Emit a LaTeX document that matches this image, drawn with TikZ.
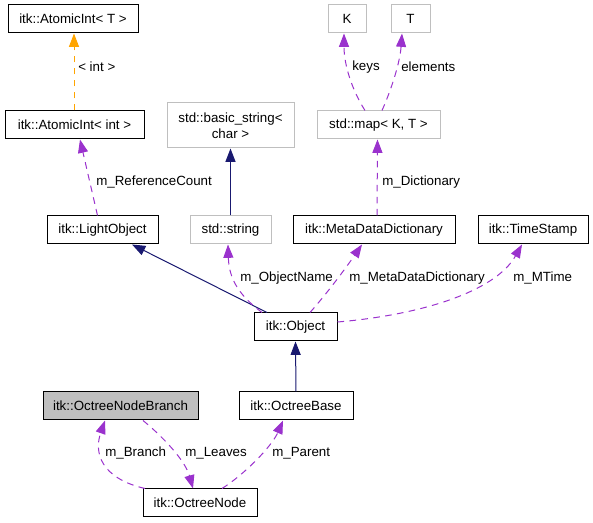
\documentclass[tikz,border=0pt]{standalone}
\usepackage{fontspec}
\setmainfont{Liberation Sans}
\usetikzlibrary{arrows.meta,calc}
\definecolor{navyc}{HTML}{191970}
\definecolor{purp}{HTML}{9A32CD}
\definecolor{orng}{HTML}{FFA500}
\definecolor{greyb}{HTML}{BFBFBF}
\begin{document}
\begin{tikzpicture}[x=0.75pt,y=-0.75pt,
  font=\fontsize{10}{12}\selectfont,
  box/.style={draw=black, line width=0.75pt, inner sep=0pt, minimum height=21pt, align=center},
  ext/.style={box, draw=greyb},
  lbl/.style={anchor=west, inner sep=0pt},
  tip/.style={-{Triangle[length=10pt,width=7.5pt]}},
  dep/.style={draw=purp, line width=0.75pt, dash pattern=on 5pt off 4pt, tip},
  inh/.style={draw=navyc, line width=0.75pt, tip},
  tmpl/.style={draw=orng, line width=0.75pt, dash pattern=on 5pt off 4pt, tip}]
\useasboundingbox (0,0) rectangle (593,523);

% nodes
\node[box, minimum width=97.5pt] (ati) at (73,19) {itk::AtomicInt< T >};
\node[box, minimum width=104.25pt] (atint) at (74.5,125) {itk::AtomicInt< int >};
\node[ext, minimum width=28.5pt] (K) at (347,19) {K};
\node[ext, minimum width=29.25pt] (T) at (410.5,19) {T};
\node[ext, minimum width=92.25pt] (map) at (378.5,125) {std::map< K, T >};
\node[ext, minimum width=95.25pt, minimum height=33.75pt] (bstr) at (230.5,125.5) {std::basic\_string<\\char >};
\node[box, minimum width=83.25pt] (light) at (102.5,230) {itk::LightObject};
\node[ext, minimum width=60.75pt] (sstr) at (230.5,230) {std::string};
\node[box, minimum width=121.5pt] (mdd) at (374,230) {itk::MetaDataDictionary};
\node[box, minimum width=82.5pt] (ts) at (533,230) {itk::TimeStamp};
\node[box, minimum width=62.25pt] (obj) at (295.5,327) {itk::Object};
\node[box, fill=greyb, minimum width=116.25pt] (onb) at (120.5,406) {itk::OctreeNodeBranch};
\node[box, minimum width=85.5pt] (ob) at (296,406) {itk::OctreeBase};
\node[box, minimum width=85.5pt] (on) at (200,503) {itk::OctreeNode};

% edges
\draw[tmpl] ($(atint.north)+(-0.5,0)$) -- ($(ati.south)+(1,0)$);
\node[lbl] (l1) at (78,67) {< int >};

\draw[dep] ($(light.north)+(-5,0)$) -- ($(atint.south)+(5.5,0)$);
\node[lbl] (l2) at (96,182) {m\_ReferenceCount};

\draw[inh] (sstr.north) -- (bstr.south);

\draw[dep] ($(mdd.north)+(3,0)$) -- ($(map.south)+(-1,0)$);
\node[lbl] (l3) at (382,182) {m\_Dictionary};

\draw[dep] ($(map.north)+(-13.5,0)$) .. controls (352,90) and (344,65) .. ($(K.south)+(-3,0)$);
\node[lbl] (l4) at (352,67) {keys};

\draw[dep] ($(map.north)+(3.5,0)$) .. controls (392,88) and (400,62) .. ($(T.south)+(-8.5,0)$);
\node[lbl] (l5) at (401,67) {elements};

\draw[inh] ($(obj.north)+(-28.5,0)$) -- ($(light.south)+(29.5,0)$);

\draw[dep] ($(obj.north)+(-33.5,0)$) .. controls (240,296) and (229,280) .. ($(sstr.south)+(-2.5,0)$);
\node[lbl] (l6) at (240,278) {m\_ObjectName};

\draw[dep] ($(obj.north)+(14.5,0)$) .. controls (330,290) and (350,262) .. ($(mdd.south)+(-12,0)$);
\node[lbl] (l7) at (349,278) {m\_MetaDataDictionary};

\draw[dep] ($(obj.east)+(0,-5)$) .. controls (420,315) and (495,292) .. ($(ts.south)+(-11,0)$);
\node[lbl] (l8) at (513,278) {m\_MTime};

\draw[inh] (ob.north) -- (obj.south);

\draw[dep] ($(on.north)+(-55,0)$) .. controls (100,478) and (94,452) .. ($(onb.south)+(-15.5,0)$);
\node[lbl] (l9) at (105,453) {m\_Branch};

\draw[dep] ($(onb.south)+(22.5,0)$) .. controls (162,436) and (185,460) .. ($(on.north)+(-7,0)$);
\node[lbl] (l10) at (185,453) {m\_Leaves};

\draw[dep] ($(on.north)+(22,0)$) .. controls (245,474) and (272,446) .. ($(ob.south)+(-13,0)$);
\node[lbl] (l11) at (272,453) {m\_Parent};
\end{tikzpicture}
\end{document}
